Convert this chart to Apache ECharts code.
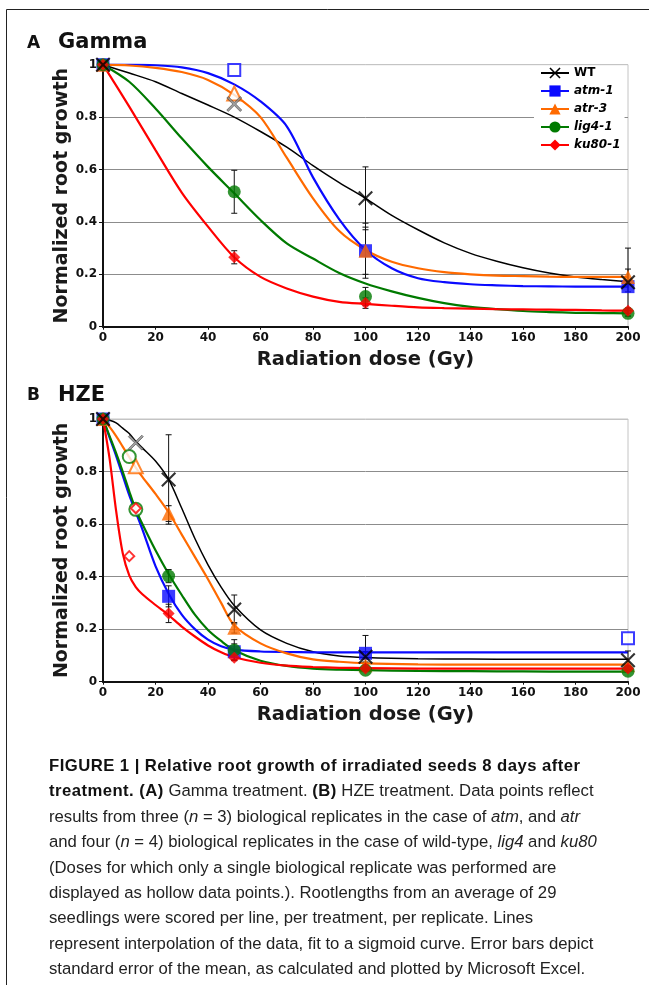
<!DOCTYPE html>
<html>
<head>
<meta charset="utf-8">
<script src="https://cdn.jsdelivr.net/npm/echarts@6/dist/echarts.min.js"></script>
<style>
  html,body{margin:0;padding:0;background:#fff;}
  #chart{position:absolute;left:0;top:0;width:649px;height:985px;}
  #caption{position:absolute;left:49px;top:753px;font-family:"Liberation Sans",Arial,sans-serif;font-size:16.7px;line-height:25.4px;color:#222;white-space:nowrap;}
  #caption b{font-weight:bold;color:#111;}
  #caption .l1{letter-spacing:0.45px;}
</style>
</head>
<body>
<div id="chart"></div>
<div id="caption"><b class="l1">FIGURE 1 | Relative root growth of irradiated seeds 8 days after</b><br><b class="l1">treatment. (A)</b> Gamma treatment. <b class="l1">(B)</b> HZE treatment. Data points reflect<br>results from three (<i>n</i> = 3) biological replicates in the case of <i>atm</i>, and <i>atr</i><br>and four (<i>n</i> = 4) biological replicates in the case of wild-type, <i>lig4</i> and <i>ku80</i><br>(Doses for which only a single biological replicate was performed are<br>displayed as hollow data points.). Rootlengths from an average of 29<br>seedlings were scored per line, per treatment, per replicate. Lines<br>represent interpolation of the data, fit to a sigmoid curve. Error bars depict<br>standard error of the mean, as calculated and plotted by Microsoft Excel.</div>
<script>
// ---------------- DATA ----------------
const genotypes = ['WT', 'atm-1', 'atr-3', 'lig4-1', 'ku80-1'];
const xTicks = [0, 20, 40, 60, 80, 100, 120, 140, 160, 180, 200];
const yTicks = [0, 0.2, 0.4, 0.6, 0.8, 1];

// Panel A: Gamma — fitted curves
const gammaCurveDose = [0,10,20,30,40,50,60,70,80,90,100,110,120,130,140,150,160,170,180,190,200];
const gammaCurveWT   = [1.0,0.968,0.935,0.89,0.846,0.80,0.745,0.685,0.615,0.55,0.49,0.425,0.37,0.32,0.28,0.25,0.225,0.205,0.19,0.18,0.172];
const gammaCurveAtm  = [1.0,1.0,0.998,0.99,0.968,0.925,0.86,0.765,0.57,0.41,0.293,0.223,0.185,0.17,0.162,0.158,0.155,0.154,0.153,0.153,0.153];
const gammaCurveAtr  = [1.0,0.997,0.988,0.972,0.942,0.885,0.80,0.645,0.49,0.365,0.293,0.248,0.223,0.208,0.2,0.195,0.193,0.191,0.19,0.19,0.19];
const gammaCurveLig4 = [1.0,0.935,0.833,0.719,0.61,0.509,0.407,0.318,0.26,0.205,0.165,0.135,0.11,0.09,0.076,0.067,0.06,0.056,0.053,0.052,0.051];
const gammaCurveKu80 = [1.0,0.84,0.674,0.512,0.382,0.265,0.19,0.146,0.115,0.095,0.087,0.08,0.074,0.071,0.069,0.067,0.066,0.065,0.064,0.062,0.061];
// Panel A: measured points [dose, value]
const gammaPtsWT   = [[0,1],[100,0.49],[200,0.17]];
const gammaPtsAtm  = [[0,1],[100,0.29],[200,0.153]];
const gammaPtsAtr  = [[0,1],[100,0.29],[200,0.19]];
const gammaPtsLig4 = [[0,1],[50,0.515],[100,0.115],[200,0.051]];
const gammaPtsKu80 = [[0,1],[50,0.265],[100,0.09],[200,0.061]];
const gammaHollowWT   = [[50,0.85]];
const gammaHollowAtm  = [[50,0.98]];
const gammaHollowAtr  = [[50,0.89]];
const gammaHollowLig4 = [];
const gammaHollowKu80 = [];
// Panel A: error bars [dose, value, sem]
const gammaErrWT   = [[100,0.49,0.12],[200,0.17,0.13]];
const gammaErrAtm  = [[100,0.29,0.105],[200,0.153,0.02]];
const gammaErrAtr  = [[100,0.29,0.09],[200,0.19,0.03]];
const gammaErrLig4 = [[50,0.515,0.082],[100,0.115,0.035],[200,0.051,0.01]];
const gammaErrKu80 = [[50,0.265,0.025],[100,0.09,0.02],[200,0.061,0.01]];

// Panel B: HZE — fitted curves
const hzeCurveDose = [0,2.5,5,7.5,10,12.5,15,20,25,30,35,40,45,50,60,70,80,90,100,120,140,160,180,200];
const hzeCurveWT   = [1,0.995,0.985,0.965,0.945,0.915,0.89,0.84,0.77,0.66,0.545,0.445,0.36,0.29,0.197,0.146,0.114,0.098,0.092,0.087,0.086,0.085,0.085,0.085];
const hzeCurveAtm  = [1,0.93,0.86,0.785,0.71,0.645,0.58,0.44,0.335,0.255,0.2,0.16,0.135,0.122,0.115,0.113,0.112,0.112,0.112,0.112,0.112,0.112,0.112,0.112];
const hzeCurveAtr  = [1,0.97,0.935,0.895,0.855,0.815,0.78,0.715,0.645,0.56,0.475,0.39,0.30,0.215,0.146,0.108,0.085,0.076,0.07,0.066,0.065,0.065,0.065,0.065];
const hzeCurveLig4 = [1,0.935,0.87,0.80,0.725,0.655,0.6,0.5,0.41,0.33,0.255,0.197,0.155,0.12,0.08,0.06,0.05,0.046,0.044,0.041,0.04,0.039,0.038,0.038];
const hzeCurveKu80 = [1,0.85,0.65,0.49,0.405,0.36,0.333,0.292,0.253,0.21,0.172,0.138,0.112,0.093,0.072,0.061,0.056,0.053,0.052,0.05,0.05,0.05,0.05,0.05];
// Panel B: measured points
const hzePtsWT   = [[0,1],[25,0.77],[50,0.275],[100,0.095],[200,0.082]];
const hzePtsAtm  = [[0,1],[25,0.325],[50,0.114],[100,0.108]];
const hzePtsAtr  = [[0,1],[25,0.64],[50,0.205],[100,0.063],[200,0.063]];
const hzePtsLig4 = [[0,1],[25,0.402],[50,0.12],[100,0.044],[200,0.04]];
const hzePtsKu80 = [[0,1],[25,0.26],[50,0.091],[100,0.05],[200,0.05]];
const hzeHollowWT   = [[12.5,0.91]];
const hzeHollowAtm  = [[200,0.165]];
const hzeHollowAtr  = [[12.5,0.82]];
const hzeHollowLig4 = [[10,0.857],[12.5,0.656]];
const hzeHollowKu80 = [[10,0.478],[12.5,0.66]];
// Panel B: error bars
const hzeErrWT   = [[25,0.77,0.17],[50,0.275,0.055],[100,0.095,0.02],[200,0.082,0.035]];
const hzeErrAtm  = [[25,0.325,0.04],[50,0.114,0.03],[100,0.108,0.068]];
const hzeErrAtr  = [[25,0.64,0.03],[50,0.205,0.02]];
const hzeErrLig4 = [[25,0.402,0.025],[50,0.12,0.04]];
const hzeErrKu80 = [[25,0.26,0.035],[50,0.091,0.01]];

// ---------------- STYLE ----------------
const FONT = '"DejaVu Sans", Verdana, sans-serif';
const X_PATH = 'path://M0,1L1,0L5,4L9,0L10,1L6,5L10,9L9,10L5,6L1,10L0,9L4,5Z';
const style = {
  'WT':     {color:'#000000', symbol:X_PATH, size:15, hollow:X_PATH, width:1.5},
  'atm-1':  {color:'#0a0aff', symbol:'rect', size:13, hollow:'emptyRect', width:2.2},
  'atr-3':  {color:'#ff6a00', symbol:'triangle', size:14, hollow:'emptyTriangle', width:2.2},
  'lig4-1': {color:'#007a00', symbol:'circle', size:13, hollow:'emptyCircle', width:2.2},
  'ku80-1': {color:'#ff0000', symbol:'diamond', size:12, hollow:'emptyDiamond', width:2.2}
};
const panels = [
  {dose:gammaCurveDose,
   curves:[gammaCurveWT,gammaCurveAtm,gammaCurveAtr,gammaCurveLig4,gammaCurveKu80],
   pts:[gammaPtsWT,gammaPtsAtm,gammaPtsAtr,gammaPtsLig4,gammaPtsKu80],
   hollow:[gammaHollowWT,gammaHollowAtm,gammaHollowAtr,gammaHollowLig4,gammaHollowKu80],
   errs:[gammaErrWT,gammaErrAtm,gammaErrAtr,gammaErrLig4,gammaErrKu80]},
  {dose:hzeCurveDose,
   curves:[hzeCurveWT,hzeCurveAtm,hzeCurveAtr,hzeCurveLig4,hzeCurveKu80],
   pts:[hzePtsWT,hzePtsAtm,hzePtsAtr,hzePtsLig4,hzePtsKu80],
   hollow:[hzeHollowWT,hzeHollowAtm,hzeHollowAtr,hzeHollowLig4,hzeHollowKu80],
   errs:[hzeErrWT,hzeErrAtm,hzeErrAtr,hzeErrLig4,hzeErrKu80]}
];

const series = [];
const markerOrder = [1,2,3,4,0];
panels.forEach((p, pi) => {
  genotypes.forEach((g, gi) => {
    const s = style[g];
    series.push({
      name: g, type:'line', xAxisIndex:pi, yAxisIndex:pi,
      data: p.dose.map((d,i)=>[d, p.curves[gi][i]]),
      smooth:0.3, showSymbol:false, symbol:s.symbol, symbolSize:s.size,
      lineStyle:{color:s.color, width:s.width}, itemStyle:{color:s.color},
      z:2, silent:true, animation:false
    });
  });
  genotypes.forEach((g, gi) => {
    series.push({
      type:'custom', xAxisIndex:pi, yAxisIndex:pi, z:3, silent:true, animation:false,
      data: p.errs[gi], encode:{x:0,y:1},
      renderItem: function(params, api){
        const x = api.value(0), y = api.value(1), e = api.value(2);
        const t = api.coord([x, y+e]), b = api.coord([x, Math.max(0, y-e)]);
        const w = 3;
        const st = {stroke:'#111', lineWidth:1};
        return {type:'group', children:[
          {type:'line', shape:{x1:t[0],y1:t[1],x2:b[0],y2:b[1]}, style:st},
          {type:'line', shape:{x1:t[0]-w,y1:t[1],x2:t[0]+w,y2:t[1]}, style:st},
          {type:'line', shape:{x1:b[0]-w,y1:b[1],x2:b[0]+w,y2:b[1]}, style:st}
        ]};
      }
    });
  });
  markerOrder.forEach(gi => {
    const g = genotypes[gi], s = style[g];
    series.push({
      type:'scatter', xAxisIndex:pi, yAxisIndex:pi, z:4, silent:true, animation:false,
      data:p.pts[gi], symbol:s.symbol, symbolSize:s.size,
      itemStyle: {color:s.color}
    });
    if (p.hollow[gi].length) {
      series.push({
        type:'scatter', xAxisIndex:pi, yAxisIndex:pi, z:4, silent:true, animation:false,
        data:p.hollow[gi], symbol:s.hollow,
        symbolSize: (g==='ku80-1' ? 10 : (g==='atm-1' ? 12 : s.size)),
        itemStyle: g==='WT' ? {color:'#8a8a8a', borderColor:'#222', borderWidth:0.6}
                            : {color:s.color, borderColor:s.color, borderWidth:2}
      });
    }
  });
});

function xAxisDef(gi){
  return {
    type:'value', gridIndex:gi, min:0, max:200, interval:20,
    name:'Radiation dose (Gy)', nameLocation:'middle', nameGap:23,
    nameTextStyle:{fontFamily:FONT, fontWeight:'bold', fontSize:19.5, color:'#1a1a1a'},
    axisLine:{show:true, onZero:false, lineStyle:{color:'#111', width:2}},
    axisTick:{show:true, length:3, lineStyle:{color:'#111', width:1}},
    axisLabel:{fontFamily:FONT, fontWeight:'bold', fontSize:12, color:'#111', margin:5},
    splitLine:{show:false}
  };
}
function yAxisDef(gi){
  return {
    type:'value', gridIndex:gi, min:0, max:1, interval:0.2,
    name:'Normalized root growth', nameLocation:'middle', nameGap:31, nameMoveOverlap:false,
    nameTextStyle:{fontFamily:FONT, fontWeight:'bold', fontSize:19, color:'#1a1a1a'},
    axisLine:{show:true, lineStyle:{color:'#111', width:2}},
    axisTick:{show:true, length:4, lineStyle:{color:'#111', width:1}},
    axisLabel:{fontFamily:FONT, fontWeight:'bold', fontSize:12, color:'#111', margin:6,
               formatter: v => String(+v.toFixed(1))},
    splitLine:{show:true, lineStyle:{color:['#8c8c8c','#8c8c8c','#8c8c8c','#8c8c8c','#8c8c8c','#c4c4c4'], width:1}}
  };
}

const chart = echarts.init(document.getElementById('chart'), null, {renderer:'canvas'});
chart.setOption({
  backgroundColor:'#fff',
  animation:false,
  grid:[
    {left:103, right:21, top:64.7, height:262, show:true, borderColor:'#c4c4c4', borderWidth:1, backgroundColor:'transparent'},
    {left:103, right:21, top:419, height:262.7, show:true, borderColor:'#c4c4c4', borderWidth:1, backgroundColor:'transparent'}
  ],
  xAxis:[xAxisDef(0), xAxisDef(1)],
  yAxis:[yAxisDef(0), yAxisDef(1)],
  legend:{
    orient:'vertical', left:534, top:66, itemWidth:28, itemHeight:14, itemGap:6,
    backgroundColor:'#fff', padding:[1,4,2,6], selectedMode:false,
    textStyle:{fontFamily:FONT, fontWeight:'bold', fontSize:12, color:'#000'},
    data:[
      {name:'WT'},
      {name:'atm-1', textStyle:{fontStyle:'italic'}},
      {name:'atr-3', textStyle:{fontStyle:'italic'}},
      {name:'lig4-1', textStyle:{fontStyle:'italic'}},
      {name:'ku80-1', textStyle:{fontStyle:'italic'}}
    ]
  },
  graphic:[
    {type:'line', shape:{x1:6.5,y1:9.5,x2:649,y2:9.5}, style:{stroke:'#222', lineWidth:1}},
    {type:'line', shape:{x1:6.5,y1:9.5,x2:6.5,y2:985}, style:{stroke:'#222', lineWidth:1}},
    {type:'text', left:27, top:35, style:{text:'A', font:'bold 17px "DejaVu Sans"', fill:'#111'}},
    {type:'text', left:58, top:32, style:{text:'Gamma', font:'bold 21px "DejaVu Sans"', fill:'#111'}},
    {type:'text', left:27, top:387, style:{text:'B', font:'bold 17px "DejaVu Sans"', fill:'#111'}},
    {type:'text', left:58, top:385, style:{text:'HZE', font:'bold 21px "DejaVu Sans"', fill:'#111'}}
  ],
  series: series
});
</script>
</body>
</html>
